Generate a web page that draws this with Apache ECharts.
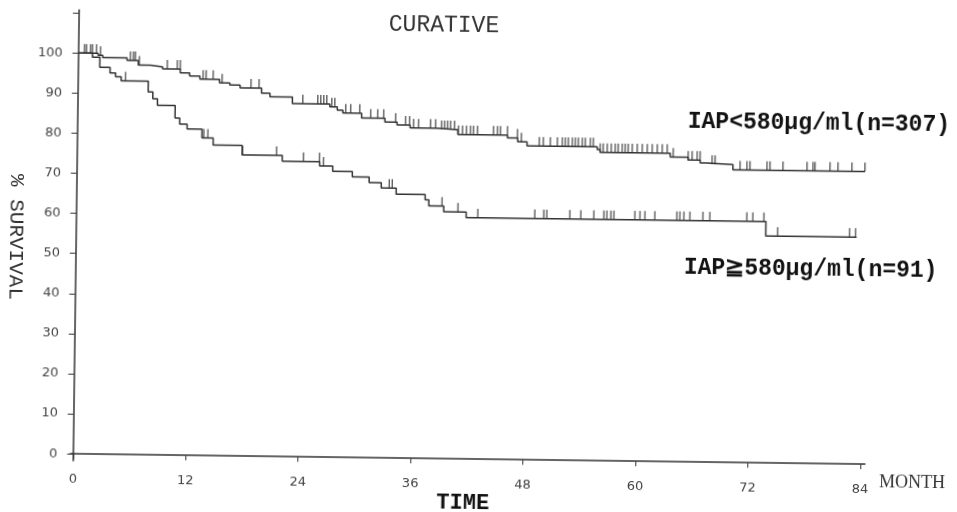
<!DOCTYPE html>
<html><head><meta charset="utf-8">
<script src="https://cdn.jsdelivr.net/npm/echarts@6/dist/echarts.min.js"></script>
<style>
html,body{margin:0;padding:0;background:#fff;overflow:hidden}
#c{width:957px;height:512px;transform:rotate(0.75deg);transform-origin:478px 256px;background:#fff}
</style></head><body><div id="c"></div>
<script>
// ---- texts ----
const chartTitle = 'CURATIVE';
const yAxisTitle = '% SURVIVAL';
const xAxisTitle = 'TIME';
const xUnit = 'MONTH';
const upperLabel = 'IAP<580\u03bcg/ml(n=307)';
const lowerLabel = 'IAP\u2267580\u03bcg/ml(n=91)';

// ---- ticks ----
const xTickValues = [0, 12, 24, 36, 48, 60, 72, 84];
const yLabelValues = [0, 10, 20, 30, 40, 50, 60, 70, 80, 90, 100];
const yTickValues = [0, 10, 20, 30, 40, 50, 60, 70, 80, 90, 100, 110];

// ---- IAP<580 (n=307): event times (month) and survival (%) after each step ----
const upperTimes = [0, 2.1, 2.6, 5.2, 6.4, 7.7, 9.0, 10.9, 11.9, 13.0, 15.1, 16.2, 17.3, 19.6, 20.5, 22.9, 26.9, 27.7, 28.3, 30.3, 32.8, 34.1, 35.5, 38.4, 40.6, 45.9, 47.0, 48.0, 55.5, 55.8, 63.3, 65.2, 66.5, 67.2, 70.0];
const upperSurv  = [100, 99.5, 98.9, 98.3, 97.2, 96.8, 96.3, 95.4, 94.6, 93.9, 93.0, 92.5, 91.8, 90.6, 89.7, 88.1, 87.4, 86.6, 85.9, 84.7, 83.8, 83.1, 82.4, 82.1, 80.9, 80.2, 79.3, 78.3, 77.6, 76.9, 76.0, 75.3, 74.6, 74.3, 73.0];
const upperEnd = 84.1;
const upperCensor = [0.64, 0.85, 1.28, 1.49, 1.92, 2.35, 5.55, 5.87, 6.08, 6.51, 9.5, 10.57, 10.89, 13.34, 13.66, 14.41, 15.37, 18.46, 19.32, 24.01, 25.61, 25.93, 26.25, 26.57, 27.11, 27.43, 28.6, 29.13, 30.1, 31.27, 32.02, 32.66, 33.94, 35.0, 35.43, 35.86, 36.39, 37.67, 38.21, 38.85, 39.17, 39.49, 39.81, 40.23, 40.66, 41.09, 41.51, 41.94, 42.26, 42.69, 44.4, 44.82, 45.14, 45.89, 46.96, 47.38, 49.3, 49.73, 50.48, 51.23, 51.76, 52.08, 52.4, 52.83, 53.15, 53.47, 53.89, 54.21, 54.75, 55.07, 55.81, 56.13, 56.56, 56.99, 57.41, 57.73, 58.16, 58.48, 58.8, 59.23, 59.76, 60.3, 60.83, 61.36, 61.9, 62.43, 62.96, 63.61, 65.21, 65.63, 66.17, 66.49, 67.77, 68.09, 70.76, 71.5, 71.82, 73.64, 73.96, 75.34, 77.91, 78.55, 78.76, 80.36, 81.21, 82.7, 84.09];

// ---- IAP>=580 (n=91) ----
const lowerTimes = [0, 1.5, 2.3, 3.4, 4.0, 4.6, 7.5, 8.0, 8.5, 10.4, 10.9, 11.7, 13.3, 14.5, 17.6, 21.9, 25.9, 27.3, 29.4, 31.2, 32.5, 34.1, 37.2, 37.6, 39.2, 41.6, 73.6];
const lowerSurv  = [100, 99.0, 96.5, 95.1, 94.2, 93.2, 90.5, 88.8, 87.2, 84.1, 82.6, 81.4, 79.2, 77.5, 75.1, 73.7, 72.6, 71.3, 70.0, 68.6, 67.3, 65.8, 64.5, 63.0, 61.6, 60.2, 56.6];
const lowerEnd = 83.3;
const lowerCensor = [5.07, 13.5, 13.93, 17.66, 21.29, 24.17, 25.88, 26.31, 33.35, 33.67, 39.01, 40.72, 42.85, 48.93, 49.89, 50.21, 52.67, 53.84, 55.23, 56.3, 56.62, 57.05, 57.37, 59.61, 60.15, 60.68, 61.74, 64.09, 64.41, 64.84, 65.48, 66.87, 67.61, 71.56, 72.2, 73.38, 74.87, 82.55, 83.19];

function stepAt(times, surv, t) {
  let v = surv[0];
  for (let i = 0; i < times.length; i++) { if (times[i] <= t) v = surv[i]; }
  return v;
}
function curve(times, surv, end) {
  const d = times.map((t, i) => [t, surv[i]]);
  d.push([end, surv[surv.length - 1]]);
  return d;
}
function marks(times, surv, cens) { return cens.map(t => [t, stepAt(times, surv, t)]); }

const ink = '#333';
const chart = echarts.init(document.getElementById('c'), null, {renderer: 'canvas'});
const lineStyle = {color: ink, width: 1.5};
const censorStyle = {type: 'scatter', symbol: 'rect', symbolSize: [1.4, 9], symbolOffset: [0, -4.5], itemStyle: {color: ink}, silent: true, z: 3};

chart.setOption({
  animation: false,
  backgroundColor: '#fff',
  grid: {left: 73, right: 89.4, top: 15.3, bottom: 46},
  xAxis: {
    type: 'value', min: -0.3, max: 84.5,
    splitLine: {show: false},
    axisLine: {lineStyle: {color: '#333', width: 1.5}},
    axisTick: {length: 5, lineStyle: {color: '#333'}, customValues: xTickValues},
    axisLabel: {customValues: xTickValues, margin: 12, color: '#444', fontFamily: 'DejaVu Sans', fontSize: 13}
  },
  yAxis: {
    type: 'value', min: -1.7, max: 110.7,
    splitLine: {show: false},
    axisLine: {show: true, lineStyle: {color: '#333', width: 1.5}},
    axisTick: {show: true, length: 6, lineStyle: {color: '#333'}, customValues: yTickValues},
    axisLabel: {customValues: yLabelValues, margin: 13, color: '#444', fontFamily: 'DejaVu Sans', fontSize: 13}
  },
  graphic: [
    {type: 'text', x: 441, y: 25.5, style: {text: chartTitle, align: 'center', verticalAlign: 'middle', font: '23px "Liberation Mono"', fill: '#333'}},
    {type: 'text', x: 686, y: 119, style: {text: upperLabel, align: 'left', verticalAlign: 'middle', font: 'bold 23px "Liberation Mono"', fill: '#111'}},
    {type: 'text', x: 684, y: 265, style: {text: lowerLabel, align: 'left', verticalAlign: 'middle', font: 'bold 23px "Liberation Mono"', fill: '#111'}},
    {type: 'text', x: 882, y: 477, style: {text: xUnit, align: 'left', verticalAlign: 'middle', font: '18px "Liberation Serif"', fill: '#333'}},
    {type: 'text', x: 466, y: 503, style: {text: xAxisTitle, align: 'center', verticalAlign: 'middle', font: 'bold 22px "Liberation Mono"', fill: '#111'}},
    {type: 'text', x: 16, y: 243, rotation: -Math.PI / 2, style: {text: yAxisTitle, align: 'center', verticalAlign: 'middle', font: '21px "Liberation Mono"', fill: '#333'}}
  ],
  series: [
    {type: 'line', step: 'end', symbol: 'none', data: curve(upperTimes, upperSurv, upperEnd), lineStyle: lineStyle, silent: true},
    {type: 'line', step: 'end', symbol: 'none', data: curve(lowerTimes, lowerSurv, lowerEnd), lineStyle: lineStyle, silent: true},
    Object.assign({data: marks(upperTimes, upperSurv, upperCensor)}, censorStyle),
    Object.assign({data: marks(lowerTimes, lowerSurv, lowerCensor)}, censorStyle)
  ]
});
</script></body></html>
